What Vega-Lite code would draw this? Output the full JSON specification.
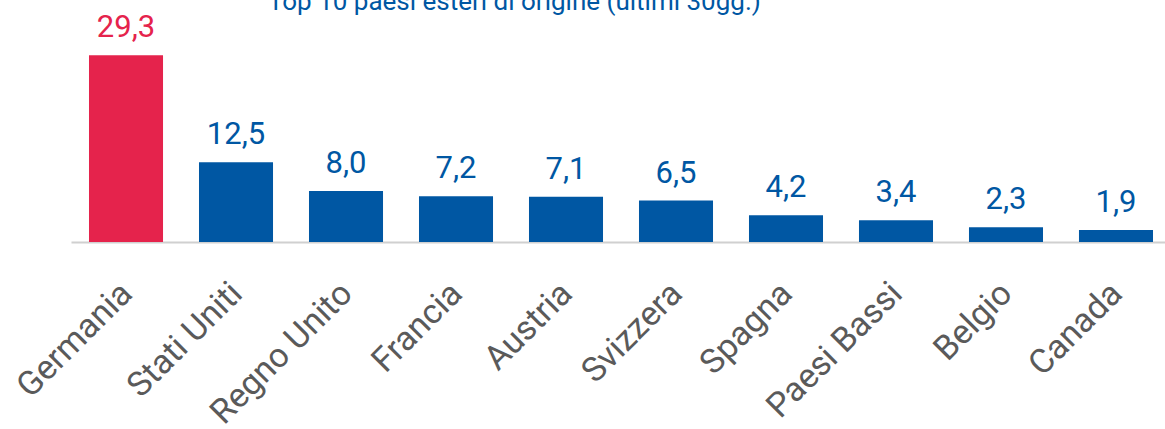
{
  "$schema": "https://vega.github.io/schema/vega-lite/v6.json",
  "autosize": "none",
  "width": 1100,
  "height": 223,
  "padding": {"left": 71, "top": 19, "right": 0, "bottom": 187},
  "background": "white",
  "config": {
    "view": {"stroke": null},
    "locale": {"number": {"decimal": ",", "thousands": ".", "grouping": [3], "currency": ["", " €"]}},
    "font": "Roboto"
  },
  "title": {
    "text": "Top 10 paesi esteri di origine (ultimi 30gg.)",
    "anchor": "start",
    "frame": "group",
    "dx": 197,
    "dy": 24,
    "offset": 0,
    "baseline": "alphabetic",
    "fontSize": 26,
    "fontWeight": "normal",
    "color": "#0057A3",
    "font": "Roboto"
  },
  "data": {
    "values": [
      {"paese": "Germania", "valore": 29.3, "top": "si"},
      {"paese": "Stati Uniti", "valore": 12.5, "top": "no"},
      {"paese": "Regno Unito", "valore": 8.0, "top": "no"},
      {"paese": "Francia", "valore": 7.2, "top": "no"},
      {"paese": "Austria", "valore": 7.1, "top": "no"},
      {"paese": "Svizzera", "valore": 6.5, "top": "no"},
      {"paese": "Spagna", "valore": 4.2, "top": "no"},
      {"paese": "Paesi Bassi", "valore": 3.4, "top": "no"},
      {"paese": "Belgio", "valore": 2.3, "top": "no"},
      {"paese": "Canada", "valore": 1.9, "top": "no"}
    ]
  },
  "encoding": {
    "x": {
      "field": "paese",
      "type": "nominal",
      "sort": null,
      "scale": {"paddingInner": 0.327, "paddingOuter": 0.1636},
      "axis": {
        "title": null,
        "labelAngle": -45,
        "labelFontSize": 34,
        "labelColor": "#5a5a5a",
        "labelFont": "Roboto",
        "labelPadding": 34,
        "labelOffset": -11,
        "labelLimit": 400,
        "ticks": false,
        "domainColor": "#d0d0d0",
        "domainWidth": 2
      }
    },
    "y": {
      "field": "valore",
      "type": "quantitative",
      "scale": {"domain": [0, 35]},
      "axis": null
    },
    "color": {
      "field": "top",
      "type": "nominal",
      "scale": {"domain": ["si", "no"], "range": ["#E5234C", "#0057A3"]},
      "legend": null
    }
  },
  "layer": [
    {"mark": {"type": "bar"}},
    {
      "mark": {"type": "text", "baseline": "alphabetic", "dy": -18, "fontSize": 31, "font": "Roboto"},
      "encoding": {"text": {"field": "valore", "type": "quantitative", "format": ".1f"}}
    }
  ]
}
